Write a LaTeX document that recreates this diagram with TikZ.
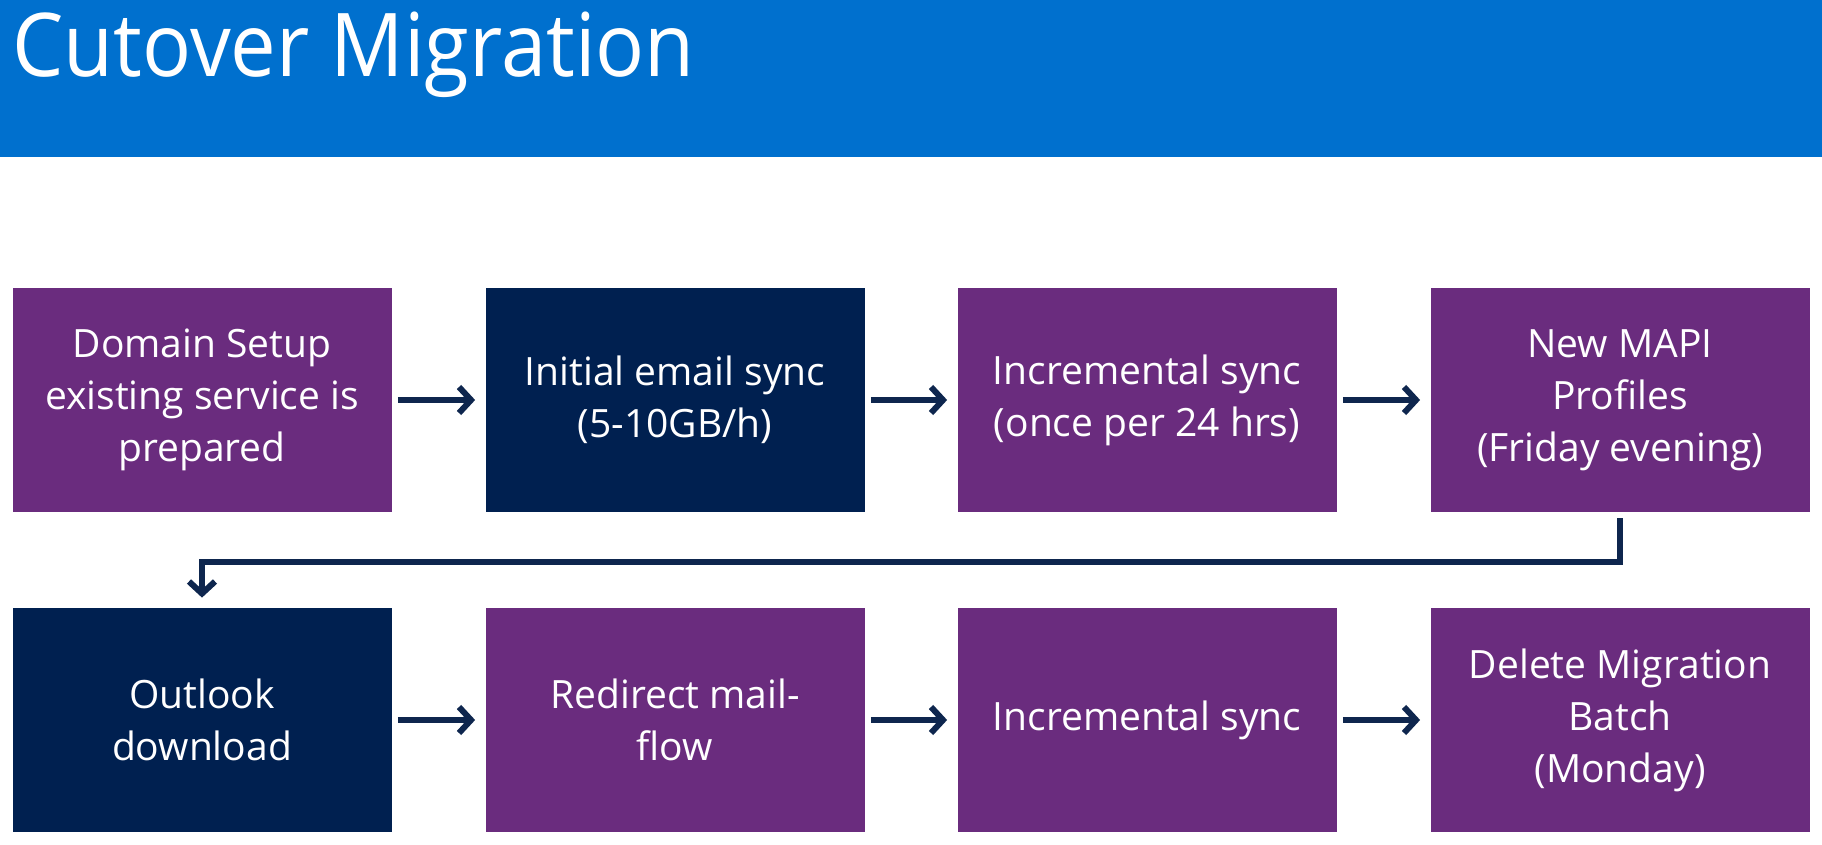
\documentclass[tikz,border=0pt]{standalone}
\usepackage{fontspec}
\setmainfont{Open Sans}
\newfontfamily\titlefont[FakeStretch=0.925]{Open Sans}
\usetikzlibrary{arrows.meta}

\definecolor{headblue}{RGB}{0,112,206}
\definecolor{stepviolet}{RGB}{106,44,126}
\definecolor{stepnavy}{RGB}{0,32,80}
\definecolor{arrownavy}{RGB}{14,38,78}

\begin{document}
\begin{tikzpicture}[x=0.5pt,y=-0.5pt,
  box/.style={minimum width=189.5pt,minimum height=112pt,inner sep=0pt,text=white,align=center,font=\fontsize{19.5}{26}\selectfont},
  phase/.style={box,fill=stepviolet},
  darkphase/.style={box,fill=stepnavy},
  flow/.style={draw=arrownavy,line width=3pt,-{Straight Barb[length=6pt,width=13pt]},shorten <=3pt,shorten >=5pt}]

\useasboundingbox (0,0) rectangle (1822,845);

%Header
\fill[headblue] (0,0) rectangle (1822,157);
\node[anchor=base west,inner sep=0pt,text=white,font=\titlefont\fontsize{44}{52}\selectfont] (title) at (12,77) {Cutover Migration};

%First row
\node[phase] (setup) at (202,400) {Domain Setup\\existing service is\\prepared};
\node[darkphase] (initial) at (675,400) {Initial email sync\\(5-10GB/h)};
\node[phase] (incr) at (1147,400) {Incremental sync\\(once per 24 hrs)};
\node[phase] (mapi) at (1620,400) {New MAPI\\Profiles\\(Friday evening)};

%Second row
\node[darkphase] (outlook) at (202,720) {Outlook\\download};
\node[phase] (redirect) at (675,720) {Redirect mail-\\flow};
\node[phase] (final) at (1147,720) {Incremental sync};
\node[phase] (delete) at (1620,720) {Delete Migration\\Batch\\(Monday)};

\draw[flow] (setup)--(initial); \draw[flow] (initial)--(incr); \draw[flow] (incr)--(mapi);
\draw[flow] (outlook)--(redirect); \draw[flow] (redirect)--(final); \draw[flow] (final)--(delete);

\coordinate (turn) at (0,562);
\draw[flow] (mapi.south) -- (mapi.south |- turn) -- (outlook.north |- turn) -- (outlook.north);

\end{tikzpicture}
\end{document}
